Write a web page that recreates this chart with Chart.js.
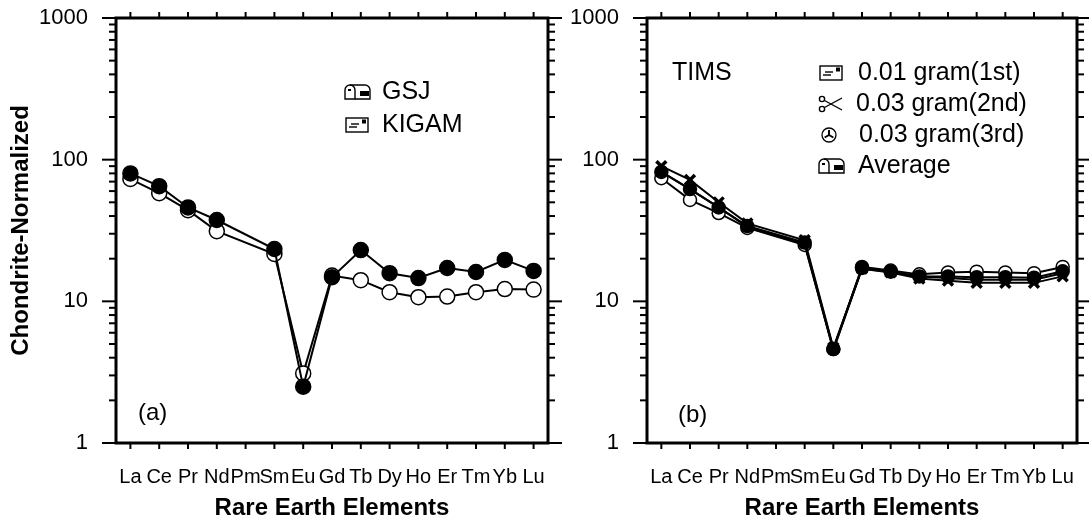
<!DOCTYPE html>
<html><head><meta charset="utf-8">
<script src="https://cdn.jsdelivr.net/npm/chart.js@4.4.0/dist/chart.umd.min.js"></script>
<style>
html,body{margin:0;padding:0;background:#fff;width:1089px;height:525px;overflow:hidden;}
canvas{position:absolute;top:0;}
#ca{left:0;}
#cb{left:555px;}
</style></head><body>
<canvas id="ca" width="575" height="525"></canvas>
<canvas id="cb" width="534" height="525"></canvas>
<script>
// ---------- data ----------
const elements = ['La','Ce','Pr','Nd','Pm','Sm','Eu','Gd','Tb','Dy','Ho','Er','Tm','Yb','Lu'];
const yTickLabels = ['1','10','100','1000'];

// panel (a)
const gsj   = [80, 65, 46, 37.5, null, 23.4, 2.5, 14.8, 23.0, 15.8, 14.6, 17.2, 16.1, 19.6, 16.4];
const kigam = [73, 58, 44, 31.3, null, 21.6, 3.1, 15.2, 14.1, 11.6, 10.7, 10.8, 11.6, 12.2, 12.1];

// panel (b) TIMS
const tims1st = [74, 52, 42, 33.0, null, 25.0, 4.6, 17.5, 16.5, 15.5, 16.0, 16.2, 16.0, 15.8, 17.5];
const tims2nd = [90, 72, 50, 35.5, null, 27.0, 4.7, 17.0, 16.0, 14.5, 14.0, 13.5, 13.5, 13.5, 15.0];
const tims3rd = [82, 62, 46, 33.5, null, 25.5, 4.5, 17.0, 16.2, 15.0, 14.6, 14.2, 14.2, 14.2, 15.8];
const timsAvg = [82, 62, 46, 34.0, null, 26.0, 4.6, 17.2, 16.2, 15.0, 15.0, 14.8, 14.8, 14.7, 16.3];

// ---------- helpers ----------
const FONT = "'Liberation Sans', Arial, Helvetica, sans-serif";
const majorVals = yTickLabels.map(Number);
const yTickValues = [];
majorVals.forEach((d, i) => {
  if (i < majorVals.length - 1) { for (let m = 1; m < 10; m++) yTickValues.push(d * m); }
  else yTickValues.push(d);
});

function line(ctx, x1, y1, x2, y2) { ctx.beginPath(); ctx.moveTo(x1, y1); ctx.lineTo(x2, y2); ctx.stroke(); }

const icons = {
  envelope(ctx, cx, cy) {
    ctx.lineWidth = 1.4;
    ctx.strokeRect(cx - 11, cy - 7, 22, 14);
    line(ctx, cx - 6, cy - 1, cx + 2, cy - 1);
    line(ctx, cx - 8, cy + 2, cx, cy + 2);
    ctx.fillRect(cx + 5, cy - 5.5, 4, 4);
  },
  mailbox(ctx, cx, cy) {
    ctx.lineWidth = 1.4;
    ctx.beginPath();
    ctx.moveTo(cx - 12, cy + 7);
    ctx.lineTo(cx - 12, cy - 2);
    ctx.arc(cx - 7, cy - 2, 5, Math.PI, 0);
    ctx.lineTo(cx - 2, cy + 7);
    ctx.closePath();
    ctx.stroke();
    ctx.beginPath();
    ctx.moveTo(cx - 7, cy - 7);
    ctx.lineTo(cx + 8, cy - 7);
    ctx.arc(cx + 8, cy - 2, 5, -Math.PI / 2, 0);
    ctx.lineTo(cx + 13, cy + 7);
    ctx.lineTo(cx - 2, cy + 7);
    ctx.stroke();
    ctx.fillRect(cx + 3, cy - 1, 9, 5);
    ctx.fillRect(cx - 9, cy - 3, 3, 2);
  },
  scissors(ctx, cx, cy) {
    ctx.lineWidth = 1.4;
    ctx.beginPath(); ctx.arc(cx - 9, cy - 5, 2.6, 0, Math.PI * 2); ctx.stroke();
    ctx.beginPath(); ctx.arc(cx - 9, cy + 5, 2.6, 0, Math.PI * 2); ctx.stroke();
    line(ctx, cx - 6.5, cy - 3.5, cx + 11, cy + 6);
    line(ctx, cx - 6.5, cy + 3.5, cx + 11, cy - 6);
  },
  spokes(ctx, cx, cy) {
    ctx.lineWidth = 1.3;
    ctx.beginPath(); ctx.arc(cx, cy, 7, 0, Math.PI * 2); ctx.stroke();
    ctx.lineWidth = 2;
    [-90, 30, 150].forEach(a => {
      const r = a * Math.PI / 180;
      line(ctx, cx, cy, cx + Math.cos(r) * 5, cy + Math.sin(r) * 5);
    });
  }
};

const framePlugin = {
  id: 'frame',
  afterDraw(chart, args, opts) {
    const { ctx, chartArea: a, scales: { x, y } } = chart;
    ctx.save();
    ctx.strokeStyle = '#000';
    ctx.fillStyle = '#000';
    ctx.lineWidth = 3;
    ctx.strokeRect(a.left, a.top, a.right - a.left, a.bottom - a.top);
    ctx.lineWidth = 2;
    y.ticks.forEach(t => {
      const py = y.getPixelForValue(t.value);
      const len = majorVals.includes(t.value) ? 14 : 7;
      line(ctx, a.left - len, py, a.left, py);
      line(ctx, a.right, py, a.right + len, py);
    });
    x.ticks.forEach((t, i) => {
      const px = x.getPixelForTick(i);
      line(ctx, px, a.top - 6, px, a.top);
      line(ctx, px, a.bottom, px, a.bottom + 6);
    });
    // annotations & legend
    ctx.textBaseline = 'middle';
    ctx.textAlign = 'left';
    (opts.texts || []).forEach(t => {
      ctx.font = `${t.size || 24}px ${FONT}`;
      ctx.fillText(t.text, t.x, t.y);
    });
    (opts.legend || []).forEach(l => {
      ctx.strokeStyle = '#000';
      icons[l.icon](ctx, l.ix, l.y);
      ctx.font = `25px ${FONT}`;
      ctx.fillText(l.text, l.tx, l.y);
    });
    ctx.restore();
  }
};

const HIDDEN = 'rgba(0,0,0,0)';

function makeOptions(yWidth, padRight, showYTitle, frameOpts) {
  return {
    responsive: false,
    animation: false,
    layout: { padding: { left: 0, right: padRight, top: 18, bottom: 0 } },
    plugins: { legend: { display: false }, tooltip: { enabled: false }, frame: frameOpts },
    scales: {
      x: {
        type: 'category', offset: true,
        grid: { display: true, drawOnChartArea: false, drawTicks: true, tickLength: 22, tickColor: HIDDEN, color: HIDDEN },
        border: { display: false },
        ticks: { autoSkip: false, maxRotation: 0, minRotation: 0, padding: 0, color: '#000',
                 font: { family: FONT, size: 20 } },
        title: { display: true, text: 'Rare Earth Elements', color: '#000',
                 font: { family: FONT, size: 24, weight: 'bold' }, padding: { top: 0, bottom: 2 } },
        afterFit(s) { s.height = 82; }
      },
      y: {
        type: 'logarithmic', min: 1, max: 1000,
        grid: { display: true, drawOnChartArea: false, drawTicks: true, tickLength: 28, tickColor: HIDDEN, color: HIDDEN },
        border: { display: false },
        afterBuildTicks(s) { s.ticks = yTickValues.map(v => ({ value: v })); },
        ticks: { autoSkip: false, padding: 0, color: '#000', font: { family: FONT, size: 22 },
                 callback: v => (majorVals.includes(v) ? String(v) : '') },
        title: { display: showYTitle, text: 'Chondrite-Normalized', color: '#000',
                 font: { family: FONT, size: 24, weight: 'bold' }, padding: { top: 7 } },
        afterFit(s) { s.width = yWidth; }
      }
    }
  };
}

const base = { borderColor: '#000', borderWidth: 2, pointBorderColor: '#000', pointBorderWidth: 1.5,
               spanGaps: true, tension: 0, fill: false };

new Chart(document.getElementById('ca'), {
  type: 'line',
  data: {
    labels: elements,
    datasets: [
      Object.assign({}, base, { label: 'GSJ', data: gsj, pointStyle: 'circle', pointRadius: 7.5,
        pointBackgroundColor: '#000', order: 0 }),
      Object.assign({}, base, { label: 'KIGAM', data: kigam, pointStyle: 'circle', pointRadius: 7.5,
        pointBackgroundColor: '#fff', order: 1 })
    ]
  },
  options: makeOptions(116, 27, true, {
    texts: [{ text: '(a)', x: 138, y: 413, size: 24 }],
    legend: [
      { icon: 'mailbox', text: 'GSJ', ix: 357, tx: 382, y: 92 },
      { icon: 'envelope', text: 'KIGAM', ix: 357, tx: 382, y: 125 }
    ]
  }),
  plugins: [framePlugin]
});

new Chart(document.getElementById('cb'), {
  type: 'line',
  data: {
    labels: elements,
    datasets: [
      Object.assign({}, base, { label: '0.01 gram(1st)', data: tims1st, pointStyle: 'circle', pointRadius: 6.5,
        pointBackgroundColor: '#fff', order: 3 }),
      Object.assign({}, base, { label: '0.03 gram(2nd)', data: tims2nd, pointStyle: 'crossRot', pointRadius: 7,
        pointBorderWidth: 3.5, order: 2 }),
      Object.assign({}, base, { label: '0.03 gram(3rd)', data: tims3rd, pointStyle: 'rect', pointRadius: 5.5,
        pointBackgroundColor: '#000', order: 1 }),
      Object.assign({}, base, { label: 'Average', data: timsAvg, pointStyle: 'circle', pointRadius: 6.5,
        pointBackgroundColor: '#000', order: 0 })
    ]
  },
  options: makeOptions(92, 12, false, {
    texts: [{ text: '(b)', x: 123, y: 415, size: 24 }, { text: 'TIMS', x: 117, y: 73, size: 25 }],
    legend: [
      { icon: 'envelope', text: '0.01 gram(1st)', ix: 276, tx: 303, y: 73 },
      { icon: 'scissors', text: '0.03 gram(2nd)', ix: 276, tx: 301, y: 104 },
      { icon: 'spokes', text: '0.03 gram(3rd)', ix: 274, tx: 304, y: 135 },
      { icon: 'mailbox', text: 'Average', ix: 276, tx: 303, y: 166 }
    ]
  }),
  plugins: [framePlugin]
});
</script>
</body></html>
